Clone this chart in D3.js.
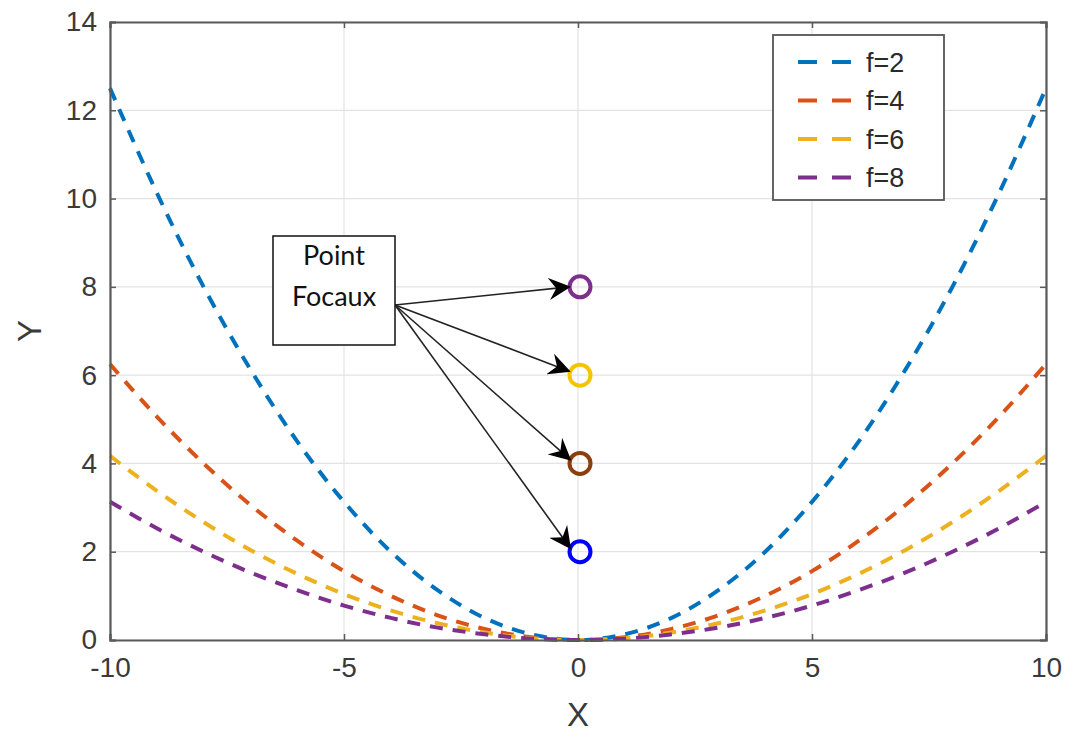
<!DOCTYPE html>
<html>
<head>
<meta charset="utf-8">
<script src="https://cdn.jsdelivr.net/npm/d3@7"></script>
<style>
  body { margin: 0; background: #fff; }
  svg { display: block; font-family: "Liberation Sans", Arial, sans-serif; }
</style>
</head>
<body>
<div class="svg-container"></div>
<script>
// data
const xValues = [-10, -9, -8, -7, -6, -5, -4, -3, -2, -1, 0, 1, 2, 3, 4, 5, 6, 7, 8, 9, 10];
const yF2 = [12.5, 10.13, 8, 6.13, 4.5, 3.13, 2, 1.13, 0.5, 0.13, 0, 0.13, 0.5, 1.13, 2, 3.13, 4.5, 6.13, 8, 10.13, 12.5];
const yF4 = [6.25, 5.06, 4, 3.06, 2.25, 1.56, 1, 0.56, 0.25, 0.06, 0, 0.06, 0.25, 0.56, 1, 1.56, 2.25, 3.06, 4, 5.06, 6.25];
const yF6 = [4.17, 3.38, 2.67, 2.04, 1.5, 1.04, 0.67, 0.38, 0.17, 0.04, 0, 0.04, 0.17, 0.38, 0.67, 1.04, 1.5, 2.04, 2.67, 3.38, 4.17];
const yF8 = [3.13, 2.53, 2, 1.53, 1.13, 0.78, 0.5, 0.28, 0.13, 0.03, 0, 0.03, 0.13, 0.28, 0.5, 0.78, 1.13, 1.53, 2, 2.53, 3.13];
const seriesNames = ["f=2", "f=4", "f=6", "f=8"];
const seriesColours = ["#0072BD", "#D95319", "#EDB120", "#7E2F8E"];
const focusY = [8, 6, 4, 2];
const focusColours = ["#7E2F8E", "#F5C400", "#8B3E0F", "#0000FF"];
const xTicks = [-10, -5, 0, 5, 10];
const yTicks = [0, 2, 4, 6, 8, 10, 12, 14];

const W = 1070, H = 734;
const margin = { top: 22, right: 24, bottom: 94, left: 110 };

const svg = d3.select(".svg-container")
  .append("svg")
  .attr("width", W)
  .attr("height", H);

const xScale = d3.scaleLinear().domain([-10, 10]).range([margin.left, W - margin.right]);
const yScale = d3.scaleLinear().domain([0, 14]).range([H - margin.bottom, margin.top]);

// grid
svg.append("g").selectAll("line.gx")
  .data(xTicks)
  .enter().append("line")
  .attr("x1", d => xScale(d)).attr("x2", d => xScale(d))
  .attr("y1", yScale(0)).attr("y2", yScale(14))
  .style("stroke", "#e3e3e3").style("stroke-width", 1.2);
svg.append("g").selectAll("line.gy")
  .data(yTicks)
  .enter().append("line")
  .attr("x1", xScale(-10)).attr("x2", xScale(10))
  .attr("y1", d => yScale(d)).attr("y2", d => yScale(d))
  .style("stroke", "#e3e3e3").style("stroke-width", 1.2);

// curves
const allY = [yF2, yF4, yF6, yF8];
const line = d3.line()
  .x((d, i) => xScale(xValues[i]))
  .y(d => yScale(d))
  .curve(d3.curveCatmullRom);

svg.append("g").selectAll("path")
  .data(allY)
  .enter().append("path")
  .attr("d", d => line(d))
  .style("fill", "none")
  .style("stroke", (d, i) => seriesColours[i])
  .style("stroke-width", 4)
  .style("stroke-dasharray", "13,10");

// axes (inward ticks, MATLAB box)
const axisColour = "#5a5a5a";
const plainFormat = d => String(d);
const xAxis = d3.axisBottom(xScale).tickValues(xTicks).tickSize(-6).tickPadding(16).tickFormat(plainFormat);
const yAxis = d3.axisLeft(yScale).tickValues(yTicks).tickSize(-6).tickPadding(13).tickFormat(plainFormat);

const gx = svg.append("g")
  .attr("transform", "translate(0," + yScale(0) + ")")
  .call(xAxis);
const gy = svg.append("g")
  .attr("transform", "translate(" + xScale(-10) + ",0)")
  .call(yAxis);
const gxTop = svg.append("g")
  .attr("transform", "translate(0," + yScale(14) + ")")
  .call(d3.axisTop(xScale).tickValues(xTicks).tickSize(-6).tickFormat(""));
const gyRight = svg.append("g")
  .attr("transform", "translate(" + xScale(10) + ",0)")
  .call(d3.axisRight(yScale).tickValues(yTicks).tickSize(-6).tickFormat(""));

[gx, gy, gxTop, gyRight].forEach(g => {
  g.select(".domain").style("stroke", axisColour).style("stroke-width", 2.2);
  g.selectAll(".tick line").style("stroke", axisColour).style("stroke-width", 1.5);
  g.selectAll(".tick text")
    .style("font-size", "28px")
    .style("fill", "#3a3a3a");
});
gx.selectAll(".tick text").attr("dy", "0.75em");

// axis labels
svg.append("text")
  .attr("x", xScale(0))
  .attr("y", 726)
  .attr("text-anchor", "middle")
  .style("font-size", "33px")
  .style("fill", "#3a3a3a")
  .text("X");
svg.append("text")
  .attr("transform", "translate(41," + yScale(7) + ") rotate(-90)")
  .attr("text-anchor", "middle")
  .style("font-size", "33px")
  .style("fill", "#3a3a3a")
  .text("Y");

// focal points
svg.append("g").selectAll("circle")
  .data(focusY)
  .enter().append("circle")
  .attr("cx", xScale(0) + 2)
  .attr("cy", d => yScale(d))
  .attr("r", 10.5)
  .style("fill", "none")
  .style("stroke", (d, i) => focusColours[i])
  .style("stroke-width", 4);

// annotation arrows
svg.append("defs").append("marker")
  .attr("id", "arrow")
  .attr("viewBox", "0 0 12 12")
  .attr("refX", 11).attr("refY", 6)
  .attr("markerWidth", 22).attr("markerHeight", 22)
  .attr("markerUnits", "userSpaceOnUse")
  .attr("orient", "auto")
  .append("path")
  .attr("d", "M0,0 L12,6 L0,12 L4,6 Z")
  .style("fill", "#000");

const boxX = 273, boxY = 236, boxW = 122, boxH = 109;
const arrowStartX = boxX + boxW, arrowStartY = 305;

svg.append("g").selectAll("line.arrow")
  .data(focusY)
  .enter().append("line")
  .attr("x1", arrowStartX)
  .attr("y1", arrowStartY)
  .attr("x2", (d, i) => xScale(0) - 9 + (i > 1 ? 1 : 0))
  .attr("y2", d => yScale(d) + (d < 8 ? -4 : 0))
  .style("stroke", "#222")
  .style("stroke-width", 1.6)
  .attr("marker-end", "url(#arrow)");

svg.append("rect")
  .attr("x", boxX).attr("y", boxY)
  .attr("width", boxW).attr("height", boxH)
  .style("fill", "#fff")
  .style("stroke", "#111")
  .style("stroke-width", 1.5);
svg.append("text")
  .attr("x", boxX + boxW / 2).attr("y", 265)
  .attr("text-anchor", "middle")
  .style("font-family", "Lato, 'Open Sans', sans-serif")
  .style("font-size", "27px")
  .style("fill", "#111")
  .text("Point");
svg.append("text")
  .attr("x", boxX + boxW / 2).attr("y", 306)
  .attr("text-anchor", "middle")
  .style("font-family", "Lato, 'Open Sans', sans-serif")
  .style("font-size", "27px")
  .style("fill", "#111")
  .text("Focaux");

// legend
const legend = svg.append("g").attr("id", "legend");
legend.append("rect")
  .attr("x", 773).attr("y", 35)
  .attr("width", 171).attr("height", 165)
  .style("fill", "#fff")
  .style("stroke", "#555")
  .style("stroke-width", 1.8);

legend.selectAll("line")
  .data(seriesColours)
  .enter().append("line")
  .attr("x1", 798).attr("x2", 851)
  .attr("y1", (d, i) => 62 + i * 38.5)
  .attr("y2", (d, i) => 62 + i * 38.5)
  .style("stroke", d => d)
  .style("stroke-width", 4)
  .style("stroke-dasharray", "19,15");

legend.selectAll("text")
  .data(seriesNames)
  .enter().append("text")
  .attr("x", 866)
  .attr("y", (d, i) => 62 + i * 38.5)
  .attr("dy", "0.36em")
  .style("font-size", "27px")
  .style("fill", "#2a2a2a")
  .text(d => d);
</script>
</body>
</html>
